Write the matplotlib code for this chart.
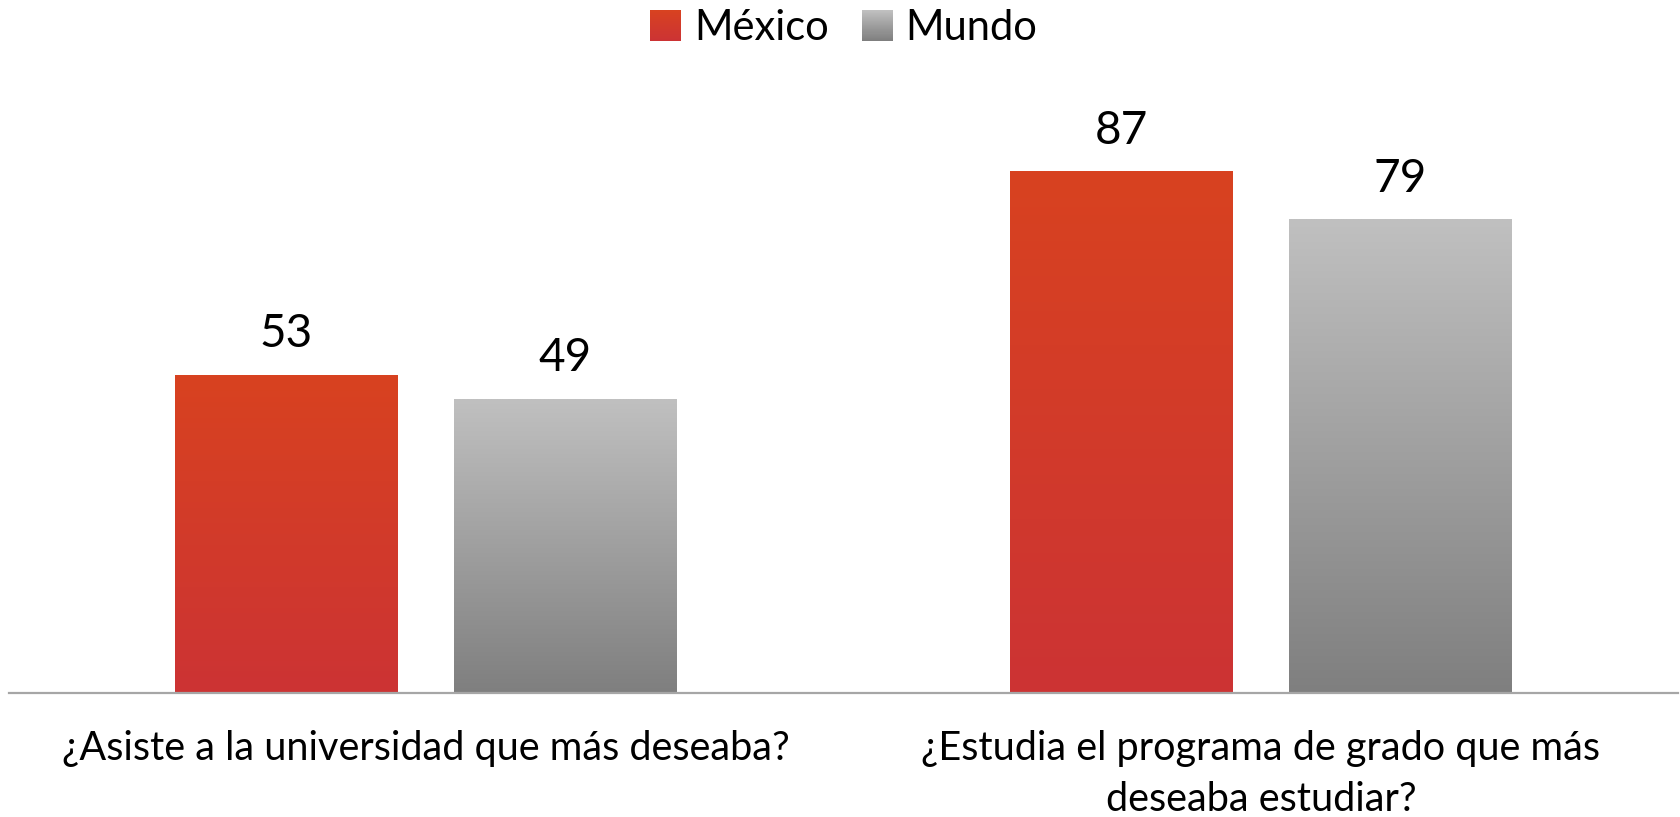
import numpy as np
import matplotlib.pyplot as plt
from matplotlib.colors import LinearSegmentedColormap
from matplotlib.patches import Rectangle
from matplotlib.legend_handler import HandlerBase

plt.rcParams['font.family'] = ['Lato', 'DejaVu Sans']

categories = ['¿Asiste a la universidad que más deseaba?',
              '¿Estudia el programa de grado que más\ndeseaba estudiar?']
series = ['México', 'Mundo']
mexico = [53, 87]
mundo = [49, 79]

# gradient colours (bottom, top)
grads = {
    'México': ('#CC3334', '#D84220'),
    'Mundo': ('#7F7F7F', '#C0C0C0'),
}


class GradHandler(HandlerBase):
    # legend swatch as a stack of thin strips
    def __init__(self, cmap, n=30):
        super().__init__()
        self.cmap = cmap
        self.n = n

    def create_artists(self, legend, orig_handle, xdescent, ydescent,
                       width, height, fontsize, trans):
        side = min(width, height)
        x0 = -xdescent + (width - side) / 2
        y0 = -ydescent + (height - side) / 2
        arts = []
        for i in range(self.n):
            r = Rectangle((x0, y0 + side * i / self.n), side, side / self.n + 0.3,
                          facecolor=self.cmap(i / (self.n - 1)), edgecolor='none',
                          transform=trans)
            arts.append(r)
        return arts


fig = plt.figure(figsize=(16.81, 8.17), dpi=100)
ax = fig.add_axes([8.5 / 1681, 0.1523, 1670 / 1681, 0.7338])

x = np.arange(len(categories))
w = 0.267
off = 0.167

grad = np.linspace(0, 1, 256).reshape(-1, 1)
cmaps = {}
for vals, name, sign in [(mexico, 'México', -1), (mundo, 'Mundo', 1)]:
    cmap = LinearSegmentedColormap.from_list(name, grads[name])
    cmaps[name] = cmap
    bars = ax.bar(x + sign * off, vals, w, color='none', edgecolor='none')
    for b, v in zip(bars, vals):
        x0, y0 = b.get_x(), b.get_y()
        ax.imshow(grad, extent=[x0, x0 + b.get_width(), y0, y0 + b.get_height()],
                  origin='lower', cmap=cmap, aspect='auto', zorder=2,
                  interpolation='bilinear')
        ax.annotate(str(v), (x0 + b.get_width() / 2, v), xytext=(0, 14),
                    textcoords='offset points', ha='center', va='bottom',
                    fontsize=33, color='#000000')

ax.set_xlim(-0.5, 1.5)
ax.set_ylim(0, 100)
ax.set_yticks([])
ax.set_xticks(x)
ax.set_xticklabels(categories, fontsize=28.5, va='top', linespacing=1.45)
ax.tick_params(axis='x', length=0, pad=27)
for s in ['top', 'left', 'right']:
    ax.spines[s].set_visible(False)
ax.spines['bottom'].set_color('#A6A6A6')
ax.spines['bottom'].set_linewidth(1.6)

handles = [Rectangle((0, 0), 1, 1) for s in series]
fig.legend(handles, series, loc='upper center', bbox_to_anchor=(0.502, 1.035),
           ncol=2, frameon=False, fontsize=30, handlelength=0.75,
           handleheight=0.75, handletextpad=0.3, columnspacing=0.8,
           handler_map={handles[0]: GradHandler(cmaps['México']),
                        handles[1]: GradHandler(cmaps['Mundo'])})

fig.savefig('out.png', dpi=100)
